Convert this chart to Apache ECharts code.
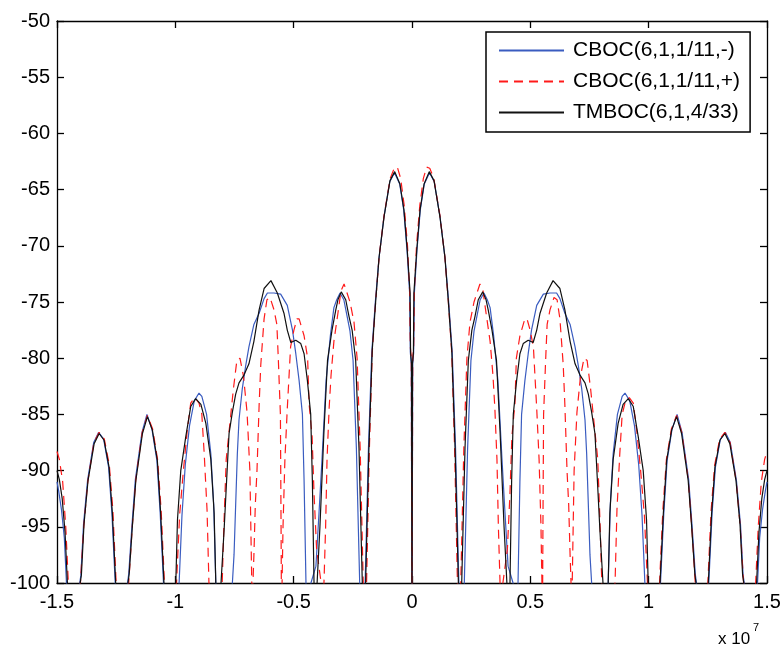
<!DOCTYPE html>
<html>
<head>
<meta charset="utf-8">
<script src="https://cdn.jsdelivr.net/npm/echarts@6/dist/echarts.min.js"></script>
<style>
  html, body { margin: 0; padding: 0; background: #fff; }
  #chart { width: 784px; height: 649px; }
</style>
</head>
<body>
<div id="chart"></div>
<script>
// Axis settings (x in units of 1e7 Hz, y in dB)
var xTicks = [-1.5, -1, -0.5, 0, 0.5, 1, 1.5];
var yTicks = [-100, -95, -90, -85, -80, -75, -70, -65, -60, -55, -50];
var seriesNames = ['CBOC(6,1,1/11,-)', 'CBOC(6,1,1/11,+)', 'TMBOC(6,1,4/33)'];

// Positive-frequency half of each spectrum [x(1e7 Hz), dB].
// The spectra are symmetric about 0, the negative half is its mirror.
var blueHalf = [
  [0,-105],[0.003,-80.5],[0.007,-79.5],[0.010,-74.2],[0.021,-70.4],[0.035,-66.8],[0.052,-64.5],[0.074,-63.5],[0.094,-64.3],
  [0.119,-67.5],[0.140,-71.2],[0.155,-75],[0.170,-79.5],[0.184,-88],[0.198,-100],[0.206,-105],
  [0.221,-100],[0.235,-88],[0.249,-80.2],[0.262,-77.6],[0.275,-76.2],[0.288,-74.8],[0.304,-74.2],[0.318,-74.8],[0.330,-75.5],
  [0.345,-78],[0.363,-82],[0.380,-88.9],[0.393,-93.8],[0.406,-98.5],[0.427,-100],[0.438,-105],
  [0.448,-100],[0.456,-90.9],[0.463,-85],[0.477,-82],[0.491,-79.6],[0.505,-77.5],[0.527,-75.3],[0.555,-74.3],[0.583,-74.2],
  [0.611,-74.2],[0.625,-74.7],[0.646,-76],[0.668,-77],[0.689,-79],[0.703,-80.7],[0.717,-82.7],[0.731,-85.5],[0.738,-88.5],
  [0.745,-93],[0.752,-97.5],[0.759,-100],[0.790,-105],
  [0.829,-100],[0.838,-93],[0.850,-88.5],[0.868,-85],[0.888,-83.4],[0.900,-83.1],[0.920,-83.8],[0.940,-86],[0.958,-89.5],
  [0.972,-94],[0.984,-100],[1.010,-105],
  [1.050,-100],[1.064,-93.8],[1.078,-89.1],[1.099,-86.3],[1.120,-85.0],[1.141,-86.6],[1.169,-90.8],[1.183,-94.8],[1.197,-99.2],
  [1.202,-100],[1.227,-105],
  [1.254,-100],[1.268,-93.8],[1.282,-89.7],[1.303,-87.2],[1.324,-86.6],[1.345,-87.5],[1.371,-90.9],[1.388,-94.8],[1.399,-99.3],
  [1.404,-100],[1.430,-105],
  [1.460,-100],[1.469,-96],[1.481,-93.5],[1.493,-91.8],[1.5,-91]
];

var redHalf = [
  [0,-105],[0.003,-80],[0.007,-79],[0.010,-74],[0.019,-70],[0.033,-66.4],[0.048,-64],[0.062,-63.0],[0.075,-63.1],[0.092,-64],
  [0.118,-67.3],[0.139,-71],[0.153,-74.8],[0.168,-79.5],[0.180,-88],[0.192,-100],[0.198,-105],
  [0.206,-100],[0.219,-88],[0.232,-80],[0.245,-76.8],[0.262,-75],[0.287,-73.4],[0.300,-74],[0.313,-76],[0.330,-78.5],
  [0.342,-81.5],[0.350,-84.4],[0.359,-89],[0.365,-95],[0.372,-100],[0.378,-105],
  [0.384,-100],[0.403,-97],[0.414,-92],[0.422,-87],[0.435,-84],[0.441,-80],[0.456,-78],[0.477,-76.5],[0.486,-76.5],
  [0.499,-77.5],[0.513,-79],[0.527,-84.5],[0.537,-89],[0.545,-95],[0.549,-100],[0.551,-105],
  [0.553,-96],[0.556,-85],[0.565,-80],[0.571,-77],[0.583,-75.7],[0.600,-74.6],[0.613,-74.8],[0.625,-76.5],[0.639,-80.6],
  [0.646,-84.2],[0.655,-90],[0.662,-93],[0.668,-97.5],[0.672,-100],[0.674,-105],
  [0.677,-100],[0.685,-90],[0.697,-84.8],[0.712,-81.6],[0.727,-80],[0.740,-80.2],[0.755,-82.8],[0.768,-85.5],[0.785,-89],
  [0.795,-95],[0.802,-100],[0.805,-105],
  [0.858,-100],[0.866,-93.5],[0.878,-88.5],[0.888,-85],[0.900,-84],[0.918,-83.5],[0.935,-84],[0.950,-86.5],[0.966,-90],
  [0.982,-94],[0.995,-100],[1.010,-105],
  [1.046,-100],[1.060,-93.5],[1.075,-89],[1.096,-86.3],[1.118,-85.1],[1.140,-86.6],[1.167,-90.8],[1.182,-95],[1.197,-100],
  [1.210,-105],
  [1.250,-100],[1.264,-93.5],[1.279,-89.5],[1.300,-87.2],[1.322,-86.6],[1.344,-87.5],[1.370,-91],[1.387,-95],[1.401,-100],
  [1.420,-105],
  [1.452,-100],[1.463,-95],[1.476,-91],[1.490,-89],[1.5,-88.3]
];

var blackHalf = [
  [0,-105],[0.002,-80.5],[0.006,-79.5],[0.008,-74.2],[0.020,-70.4],[0.034,-66.8],[0.051,-64.5],[0.073,-63.4],[0.093,-64.2],
  [0.118,-67.4],[0.139,-71.0],[0.153,-74.8],[0.168,-79.3],[0.182,-88],[0.196,-100],[0.203,-105],
  [0.210,-100],[0.224,-88],[0.238,-80.2],[0.253,-77.5],[0.266,-76.3],[0.280,-74.8],[0.299,-74.1],[0.313,-74.8],[0.322,-75.7],
  [0.338,-77.5],[0.357,-80.2],[0.372,-86.5],[0.389,-95],[0.401,-100],[0.407,-105],
  [0.414,-100],[0.421,-90.9],[0.428,-85],[0.442,-82],[0.456,-79.6],[0.470,-78.7],[0.491,-78.4],[0.512,-78.6],[0.527,-77.5],
  [0.541,-76],[0.569,-74.2],[0.596,-73.1],[0.625,-73.8],[0.646,-75.7],[0.668,-78.5],[0.689,-80.5],[0.710,-81.5],[0.731,-82.2],
  [0.745,-83.2],[0.759,-84.8],[0.773,-86.7],[0.780,-89.5],[0.787,-92.4],[0.794,-95.3],[0.807,-100],[0.815,-105],
  [0.829,-100],[0.836,-93.8],[0.850,-89],[0.871,-85.8],[0.892,-84.1],[0.914,-83.6],[0.935,-84.3],[0.956,-87],[0.977,-90],
  [0.991,-94.4],[0.998,-100],[1.020,-105],
  [1.048,-100],[1.062,-93.8],[1.076,-89.1],[1.097,-86.4],[1.118,-85.2],[1.139,-86.7],[1.167,-90.9],[1.181,-94.8],[1.195,-99.2],
  [1.200,-100],[1.225,-105],
  [1.252,-100],[1.266,-93.8],[1.280,-89.7],[1.301,-87.3],[1.322,-86.7],[1.343,-87.6],[1.369,-90.9],[1.386,-94.8],[1.397,-99.3],
  [1.402,-100],[1.430,-105],
  [1.456,-100],[1.466,-95.5],[1.478,-92.5],[1.490,-90.8],[1.5,-90]
];

function fullSpectrum(half) {
  var neg = half.filter(function (p) { return p[0] > 0; })
                .map(function (p) { return [-p[0], p[1]]; })
                .reverse();
  return neg.concat(half);
}

var FONT = '"Liberation Sans", Arial, Helvetica, sans-serif';
var BLUE = '#3a5cc0', RED = '#ff1a1a', BLACK = '#111';
var chart = echarts.init(document.getElementById('chart'), null, { renderer: 'canvas' });

var axisLineStyle = { color: '#000', width: 1.3 };
var xAxisBase = {
  type: 'value', min: xTicks[0], max: xTicks[xTicks.length - 1], interval: 0.5,
  axisLine: { show: true, onZero: false, lineStyle: axisLineStyle },
  axisTick: { show: true, inside: true, length: 7, lineStyle: axisLineStyle },
  splitLine: { show: false }
};
var yAxisBase = {
  type: 'value', min: yTicks[0], max: yTicks[yTicks.length - 1], interval: 5,
  axisLine: { show: true, onZero: false, lineStyle: axisLineStyle },
  axisTick: { show: true, inside: true, length: 7, lineStyle: axisLineStyle },
  splitLine: { show: false }
};

var option = {
  backgroundColor: '#fff',
  animation: false,
  grid: { left: 57, right: 17, top: 21, bottom: 66, containLabel: false },
  xAxis: [
    Object.assign({}, xAxisBase, {
      position: 'bottom',
      axisLabel: { show: true, margin: 9, color: '#000', fontSize: 20, fontFamily: FONT,
        formatter: function (v) { return String(v); } }
    }),
    Object.assign({}, xAxisBase, { position: 'top', axisLabel: { show: false } })
  ],
  yAxis: [
    Object.assign({}, yAxisBase, {
      position: 'left',
      axisLabel: { show: true, margin: 7, color: '#000', fontSize: 20, fontFamily: FONT }
    }),
    Object.assign({}, yAxisBase, { position: 'right', axisLabel: { show: false } })
  ],
  legend: {
    show: true,
    orient: 'vertical',
    left: 486, top: 32,
    align: 'left',
    itemWidth: 65, itemHeight: 14, itemGap: 10,
    padding: [8, 10, 9, 12],
    borderColor: '#000', borderWidth: 1.5, backgroundColor: '#fff',
    itemStyle: { color: 'rgba(0,0,0,0)', borderWidth: 0, opacity: 0 },
    textStyle: { color: '#000', fontSize: 21, fontFamily: FONT, lineHeight: 20, padding: [0, 0, 0, 4] },
    data: seriesNames
  },
  graphic: [
    { type: 'text', x: 718, y: 639, style: { text: 'x 10', fill: '#000', font: '17px ' + FONT, textVerticalAlign: 'middle' } },
    { type: 'text', x: 753, y: 628, style: { text: '7', fill: '#000', font: '11px ' + FONT, textVerticalAlign: 'middle' } }
  ],
  series: [
    { name: seriesNames[0], type: 'line', data: fullSpectrum(blueHalf), symbol: 'none', clip: true,
      color: BLUE, lineStyle: { color: BLUE, width: 1.2 } },
    { name: seriesNames[1], type: 'line', data: fullSpectrum(redHalf), symbol: 'none', clip: true,
      color: RED, lineStyle: { color: RED, width: 1.2, type: [9, 6] } },
    { name: seriesNames[2], type: 'line', data: fullSpectrum(blackHalf), symbol: 'none', clip: true,
      color: BLACK, lineStyle: { color: BLACK, width: 1.2 } }
  ]
};
chart.setOption(option);
</script>
</body>
</html>
